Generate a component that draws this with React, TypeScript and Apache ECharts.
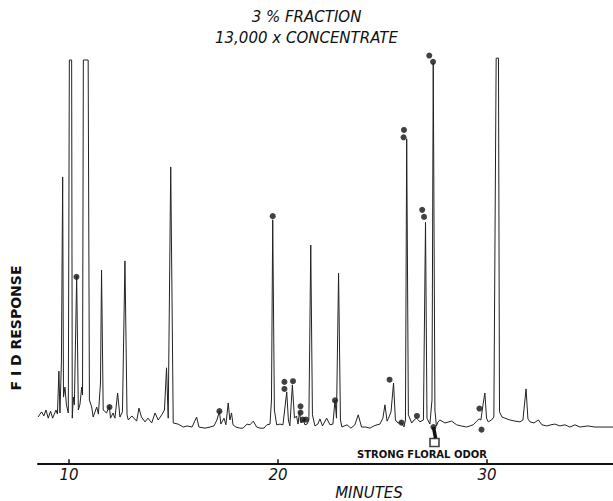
import React, { useEffect, useRef } from 'react';
import * as echarts from 'echarts';

// Chromatogram trace: retention time (minutes) and FID response (% of full scale)
const traceMinutes = [
  8.52, 8.69, 8.8, 8.9, 9.01, 9.12, 9.22, 9.38, 9.45, 9.52, 9.57, 9.64, 9.7, 9.74, 9.81, 9.88, 9.97,
  10.02, 10.13, 10.16, 10.21, 10.26, 10.37, 10.45, 10.53, 10.61, 10.65, 10.69, 10.92, 10.98, 11.09,
  11.16, 11.33, 11.41, 11.51, 11.56, 11.64, 11.8, 11.93, 11.99, 12.11, 12.2, 12.33, 12.44, 12.56,
  12.68, 12.78, 12.84, 13.01, 13.24, 13.35, 13.47, 13.64, 13.78, 13.96, 14.12, 14.27, 14.44, 14.57,
  14.67, 14.75, 14.87, 14.99, 15.22, 15.47, 15.65, 15.89, 16.11, 16.22, 16.51, 16.75, 16.94, 17.08,
  17.2, 17.27, 17.42, 17.51, 17.62, 17.7, 17.78, 17.85, 17.99, 18.18, 18.33, 18.52, 18.66, 18.82,
  18.98, 19.14, 19.33, 19.47, 19.62, 19.69, 19.75, 19.83, 19.94, 20.1, 20.24, 20.42, 20.5, 20.57,
  20.69, 20.79, 20.89, 20.96, 21.03, 21.1, 21.2, 21.29, 21.39, 21.48, 21.57, 21.65, 21.77, 21.91,
  22.01, 22.13, 22.33, 22.49, 22.63, 22.73, 22.8, 22.9, 22.99, 23.06, 23.3, 23.49, 23.68, 23.84,
  24.0, 24.21, 24.4, 24.59, 24.74, 24.88, 25.02, 25.12, 25.22, 25.29, 25.41, 25.53, 25.62, 25.74,
  25.91, 26.03, 26.1, 26.16, 26.24, 26.4, 26.51, 26.63, 26.72, 26.79, 26.96, 27.06, 27.13, 27.27,
  27.37, 27.43, 27.51, 27.58, 27.66, 27.75, 27.99, 28.31, 28.55, 28.76, 29.03, 29.34, 29.51, 29.62,
  29.71, 29.81, 29.9, 29.98, 30.06, 30.22, 30.33, 30.44, 30.55, 30.6, 30.72, 30.86, 31.1, 31.34,
  31.58, 31.72, 31.87, 31.96, 32.06, 32.25, 32.46, 32.63, 32.86, 33.06, 33.25, 33.49, 33.73, 33.97,
  34.21, 34.45, 34.83, 35.17, 35.65, 36.03,
];
const traceResponse = [
  3.5, 4.9, 3.8, 5.4, 3.2, 5.1, 3.2, 5.4, 4.3, 15.9, 4.6, 18.4, 68.4, 8.9, 11.6, 6.8, 4.6,
  100, 100, 3.2, 8.9, 6.8, 41.6, 5.4, 7.0, 11.6, 9.5, 100, 100, 8.1, 6.2,
  3.5, 6.2, 4.3, 12.7, 43.2, 5.4, 4.6, 6.5, 3.2, 4.6, 3.2, 10.0, 3.5, 4.9,
  45.7, 4.1, 2.7, 3.8, 2.4, 5.9, 3.5, 2.2, 3.2, 1.9, 4.6, 2.7, 4.1, 5.4,
  16.8, 3.2, 71.1, 1.9, 1.6, 0.8, 1.1, 0.8, 3.5, 0.8, 0.5, 0.8, 1.1, 2.7,
  5.1, 1.6, 3.2, 1.4, 7.3, 2.7, 4.6, 1.4, 0.8, 0.5, 0.5, 1.6, 1.4, 2.4,
  0.8, 0.5, 0.5, 1.4, 1.6, 8.1, 56.8, 5.4, 1.4, 1.6, 1.4, 10.3, 2.7, 1.1,
  12.2, 3.2, 3.8, 1.6, 4.9, 1.9, 3.0, 1.4, 1.6, 2.7, 50.0, 4.1, 1.1, 1.6,
  3.0, 1.1, 3.2, 1.4, 1.6, 8.1, 3.2, 42.4, 2.7, 0.8, 1.4, 0.5, 1.4, 4.1,
  0.8, 0.8, 0.5, 1.1, 1.4, 1.6, 3.2, 6.8, 2.4, 3.2, 4.9, 12.7, 2.7, 1.9,
  1.9, 0.8, 2.7, 78.7, 4.1, 1.9, 2.7, 3.2, 2.7, 2.2, 2.7, 56.2, 3.2, 1.6,
  8.1, 99.2, 5.4, 1.1, 2.2, 2.7, 1.9, 2.4, 1.4, 1.1, 0.8, 1.4, 2.4, 3.0,
  2.7, 6.8, 10.0, 3.2, 2.2, 2.7, 3.5, 100.5, 100.5, 4.9, 3.5, 3.2, 2.7, 2.4,
  2.2, 2.7, 11.1, 3.0, 2.2, 1.9, 2.7, 1.4, 1.1, 1.4, 1.6, 1.1, 1.4, 0.8,
  1.4, 0.8, 1.1, 0.8, 0.8, 0.8,
];

// Odor-marker dots
const odorDotMinutes = [
  10.36, 11.94, 17.2, 19.75, 20.31, 20.31, 20.72, 21.08, 21.08, 21.18, 21.34, 22.73, 25.34, 25.91,
  26.03, 26.01, 26.65, 26.9, 26.99, 27.24, 27.42, 29.64, 29.74, 27.44,
];
const odorDotResponse = [
  41.4, 6.2, 5.1, 57.8, 13.0, 11.1, 13.2, 6.4, 4.7, 2.8, 2.8, 8.0, 13.6, 2.0,
  81.1, 79.1, 3.8, 59.5, 57.6, 101.2, 99.5, 5.8, 0.1, 0.8,
];

// "Strong floral odor" pointer and box
const floralStemMinutes = [27.44, 27.54];
const floralStemResponse = [0.8, -2.2];
const floralBoxMinutes = [27.49];
const floralBoxResponse = [-3.4];

const tickMinutes = [10, 20, 30];

export default function App() {
  const ref = useRef<HTMLDivElement>(null);
  useEffect(() => {
    if (!ref.current) return;
    const chart = echarts.init(ref.current, null, { renderer: 'svg' });
    const ink = '#111';
    chart.setOption({
      animation: false,
      backgroundColor: '#fff',
      title: {
        text: '3 % FRACTION\n13,000 x CONCENTRATE',
        left: 'center',
        top: 1,
        textStyle: {
          fontFamily: 'DejaVu Sans',
          fontStyle: 'italic',
          fontWeight: 'normal',
          fontSize: 15,
          lineHeight: 21,
          color: ink,
        },
      },
      grid: { left: 38, right: 0, top: 60, bottom: 37.7 },
      xAxis: {
        type: 'value',
        min: 8.52,
        max: 36.03,
        axisLine: { show: true, onZero: false, lineStyle: { color: ink, width: 2 } },
        axisTick: { show: true, inside: true, length: 4, customValues: tickMinutes, lineStyle: { color: ink, width: 1.5 } },
        axisLabel: {
          customValues: tickMinutes,
          margin: 4,
          fontFamily: 'DejaVu Sans',
          fontStyle: 'italic',
          fontSize: 15,
          color: ink,
        },
        splitLine: { show: false },
      },
      yAxis: { type: 'value', min: -9, max: 100, show: false },
      graphic: [
        {
          type: 'text',
          x: 16,
          y: 328,
          rotation: Math.PI / 2,
          style: {
            text: 'F I D RESPONSE',
            fontFamily: 'DejaVu Sans',
            fontWeight: 'bold',
            fontSize: 14,
            fill: ink,
            align: 'center',
            verticalAlign: 'middle',
          },
        },
        {
          type: 'text',
          x: 422,
          y: 454,
          style: {
            text: 'STRONG FLORAL ODOR',
            fontFamily: 'DejaVu Sans',
            fontWeight: 'bold',
            fontSize: 10,
            fill: ink,
            align: 'center',
            verticalAlign: 'middle',
          },
        },
        {
          type: 'text',
          x: 369,
          y: 493,
          style: {
            text: 'MINUTES',
            fontFamily: 'DejaVu Sans',
            fontStyle: 'italic',
            fontSize: 15,
            fill: ink,
            align: 'center',
            verticalAlign: 'middle',
          },
        },
      ],
      series: [
        {
          type: 'line',
          data: traceMinutes.map((t, i) => [t, traceResponse[i]]),
          showSymbol: false,
          symbol: 'none',
          clip: false,
          lineStyle: { color: '#222', width: 1 },
        },
        {
          type: 'line',
          data: floralStemMinutes.map((t, i) => [t, floralStemResponse[i]]),
          showSymbol: false,
          symbol: 'none',
          clip: false,
          lineStyle: { color: ink, width: 3.5 },
        },
        {
          type: 'scatter',
          data: odorDotMinutes.map((t, i) => [t, odorDotResponse[i]]),
          symbol: 'circle',
          symbolSize: 6,
          clip: false,
          itemStyle: { color: ink },
        },
        {
          type: 'scatter',
          data: floralBoxMinutes.map((t, i) => [t, floralBoxResponse[i]]),
          symbol: 'rect',
          symbolSize: [9, 8],
          clip: false,
          itemStyle: { color: '#fff', borderColor: ink, borderWidth: 1.5 },
        },
      ],
    });
    return () => chart.dispose();
  }, []);
  return (
    <div
      ref={ref}
      style={{ position: 'fixed', left: 0, top: 0, width: 613, height: 501, background: '#fff' }}
    />
  );
}
